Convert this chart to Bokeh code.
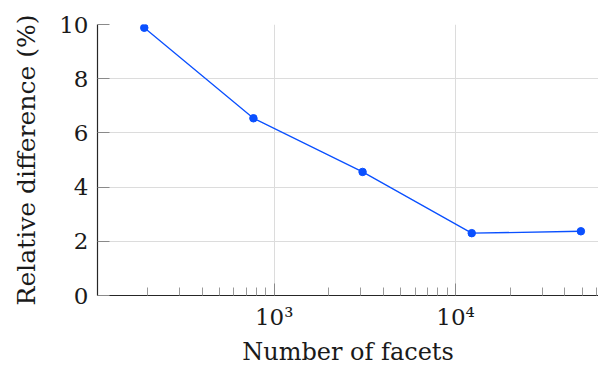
from bokeh.plotting import figure
from bokeh.models import FixedTicker, Range1d
from bokeh.embed import file_html
from bokeh.resources import INLINE

# Data
facets = [192, 768, 3072, 12288, 49152]
rel_diff = [9.88, 6.54, 4.56, 2.30, 2.37]

x_major_ticks = [1000, 10000]
x_major_labels = ["10\u00b3", "10\u2074"]
y_ticks = [0, 2, 4, 6, 8, 10]
x_title = "Number of facets"
y_title = "Relative difference (%)"

FONT = "DejaVu Serif"
BLUE = "#0a50ff"
TXT = "#1a1a1a"

p = figure(width=598, height=369, x_axis_type="log",
           x_range=Range1d(106.0, 61480), y_range=Range1d(0, 10),
           output_backend="svg", toolbar_location=None,
           min_border_left=97, min_border_right=0, min_border_top=24, min_border_bottom=74)
p.outline_line_color = None
p.background_fill_color = "white"
p.border_fill_color = "white"

p.line(facets, rel_diff, line_color=BLUE, line_width=1.3)
p.scatter(facets, rel_diff, size=7.5, fill_color=BLUE, line_color=BLUE)

minor = []
for dec in [100, 1000, 10000]:
    for m in range(2, 10):
        minor.append(dec * m)

xa = p.xaxis[0]
xa.ticker = FixedTicker(ticks=x_major_ticks, minor_ticks=minor)
xa.major_label_overrides = {t: l for t, l in zip(x_major_ticks, x_major_labels)}
xa.axis_label = x_title

ya = p.yaxis[0]
ya.ticker = FixedTicker(ticks=y_ticks)
ya.axis_label = y_title

for ax in (xa, ya):
    ax.axis_line_color = "#262626"
    ax.axis_line_width = 1.2
    ax.major_tick_line_color = "#8a8a8a"
    ax.minor_tick_line_color = "#9a9a9a"
    ax.major_tick_in = 12
    ax.major_tick_out = 0
    ax.minor_tick_in = 8
    ax.minor_tick_out = 0
    ax.major_label_text_font = FONT
    ax.major_label_text_font_size = "23px"
    ax.major_label_text_color = TXT
    ax.axis_label_text_font = FONT
    ax.axis_label_text_font_style = "normal"
    ax.axis_label_text_color = TXT

xa.axis_label_text_font_size = "24px"
ya.axis_label_text_font_size = "25px"

xa.major_label_standoff = 8
xa.axis_label_standoff = 5
ya.major_label_standoff = 9
ya.axis_label_standoff = 15

p.xgrid.grid_line_color = "#dcdcdc"
p.ygrid.grid_line_color = "#dcdcdc"

open("out.html", "w").write(file_html(p, INLINE))
